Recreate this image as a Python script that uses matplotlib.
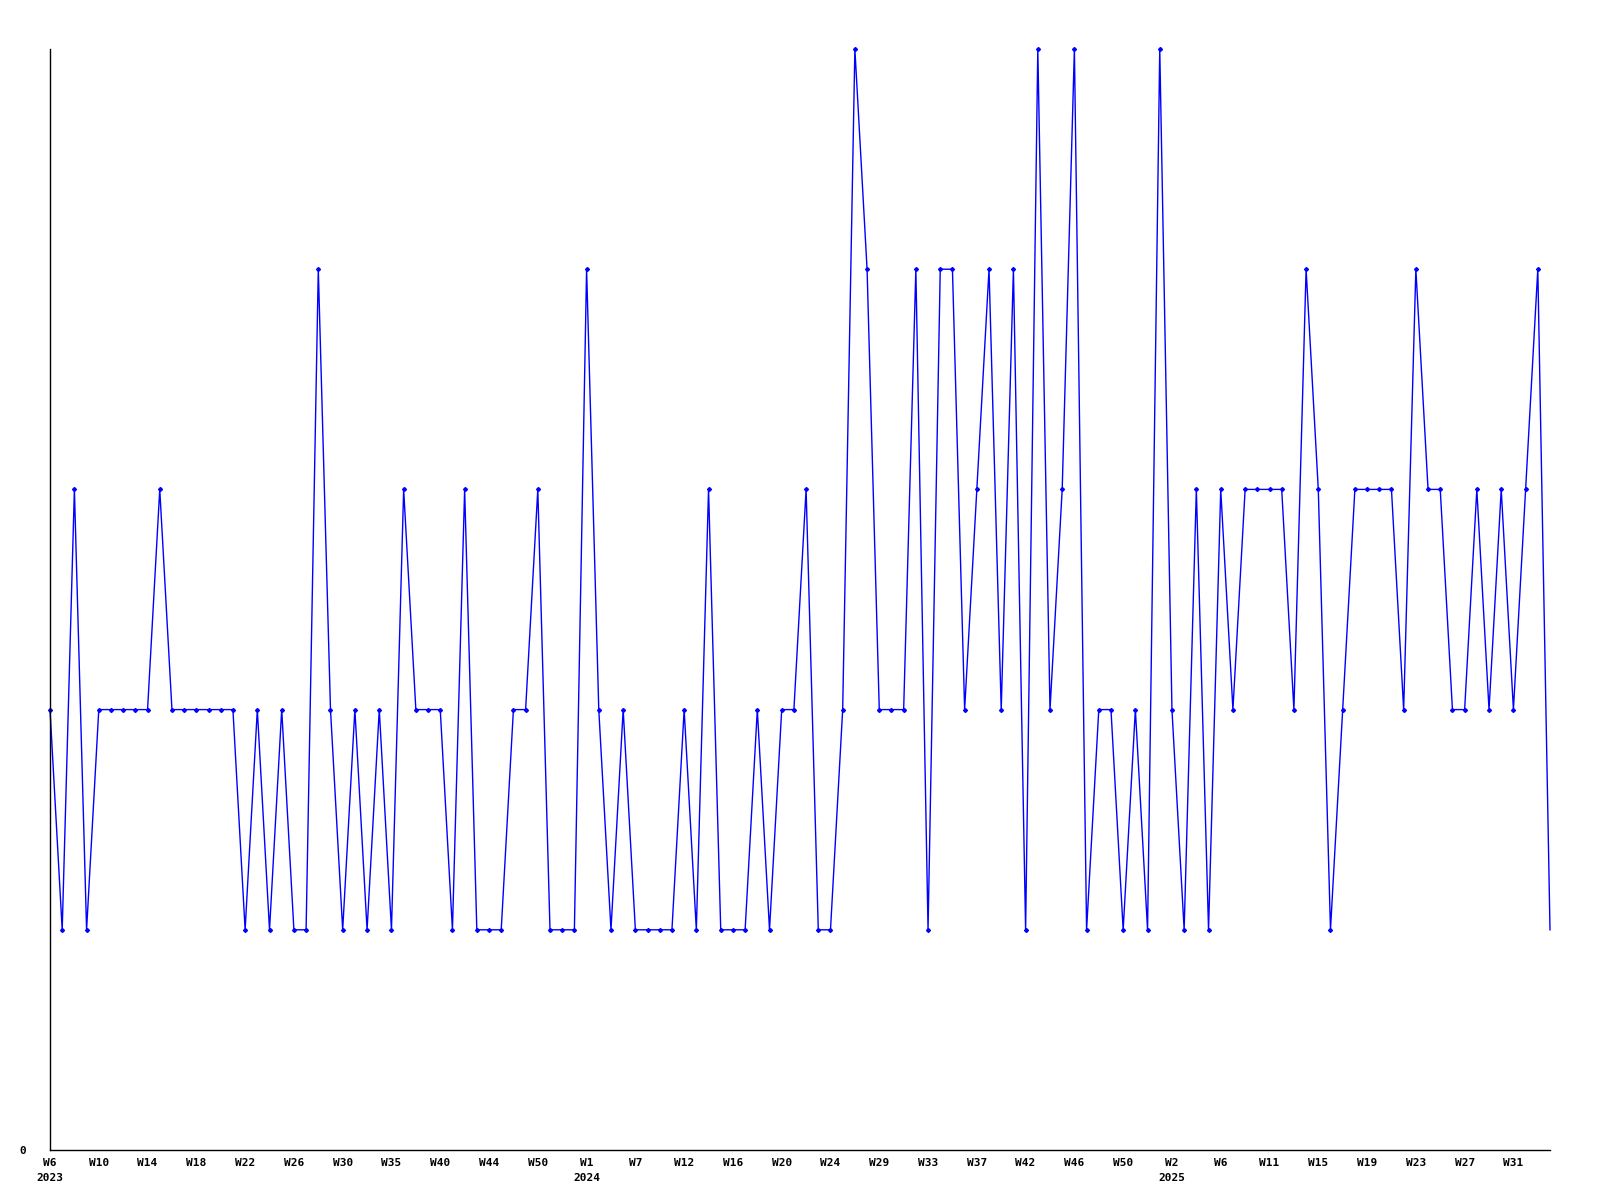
import matplotlib.pyplot as plt

# weekly values, 2023 W6 -> 2025 W33
values = [2, 1, 3, 1, 2, 2, 2, 2, 2, 3, 2, 2, 2, 2, 2, 2, 1, 2, 1, 2,
          1, 1, 4, 2, 1, 2, 1, 2, 1, 3, 2, 2, 2, 1, 3, 1, 1, 1, 2, 2,
          3, 1, 1, 1, 4, 2, 1, 2, 1, 1, 1, 1, 2, 1, 3, 1, 1, 1, 2, 1,
          2, 2, 3, 1, 1, 2, 5, 4, 2, 2, 2, 4, 1, 4, 4, 2, 3, 4, 2, 4,
          1, 5, 2, 3, 5, 1, 2, 2, 1, 2, 1, 5, 2, 1, 3, 1, 3, 2, 3, 3,
          3, 3, 2, 4, 3, 1, 2, 3, 3, 3, 3, 2, 4, 3, 3, 2, 2, 3, 2, 3,
          2, 3, 4, 1]

week_labels = ["W6", "W10", "W14", "W18", "W22", "W26", "W30", "W35", "W40", "W44",
               "W50", "W1", "W7", "W12", "W16", "W20", "W24", "W29", "W33", "W37",
               "W42", "W46", "W50", "W2", "W6", "W11", "W15", "W19", "W23", "W27", "W31"]
year_marks = {"W6": "2023", "W1": "2024", "W2": "2025"}

x = list(range(len(values)))
tick_pos = list(range(0, 4 * len(week_labels), 4))
tick_text = []
seen = set()
for lab in week_labels:
    if lab in year_marks and year_marks[lab] not in seen:
        tick_text.append(lab + "\n" + year_marks[lab])
        seen.add(year_marks[lab])
    else:
        tick_text.append(lab)

plt.rcParams['font.family'] = ['DejaVu Sans Mono']

fig = plt.figure(figsize=(16, 12), dpi=100)
ax = fig.add_axes([50 / 1600, 50 / 1200, 1500 / 1600, 1101 / 1200])

# last point has no marker in the original
ax.plot(x, values, color='#0000ff', linewidth=1, marker='D', markersize=2,
        markevery=list(range(len(values) - 1)), clip_on=False)

ax.set_xlim(0, len(values) - 1)
ax.set_ylim(0, 5)
ax.set_xticks(tick_pos)
ax.set_xticklabels(tick_text, fontsize=8, fontweight='bold', linespacing=1.6)
ax.set_yticks([0])
ax.set_yticklabels(["0"], fontsize=8, fontweight='bold')
ax.tick_params(axis='x', length=0, pad=6)
ax.tick_params(axis='y', length=0, pad=17)
for lab in ax.get_xticklabels():
    lab.set_verticalalignment('top')

ax.spines['top'].set_visible(False)
ax.spines['right'].set_visible(False)
ax.spines['left'].set_linewidth(1)
ax.spines['bottom'].set_linewidth(1)

fig.savefig('out.png', dpi=100)
